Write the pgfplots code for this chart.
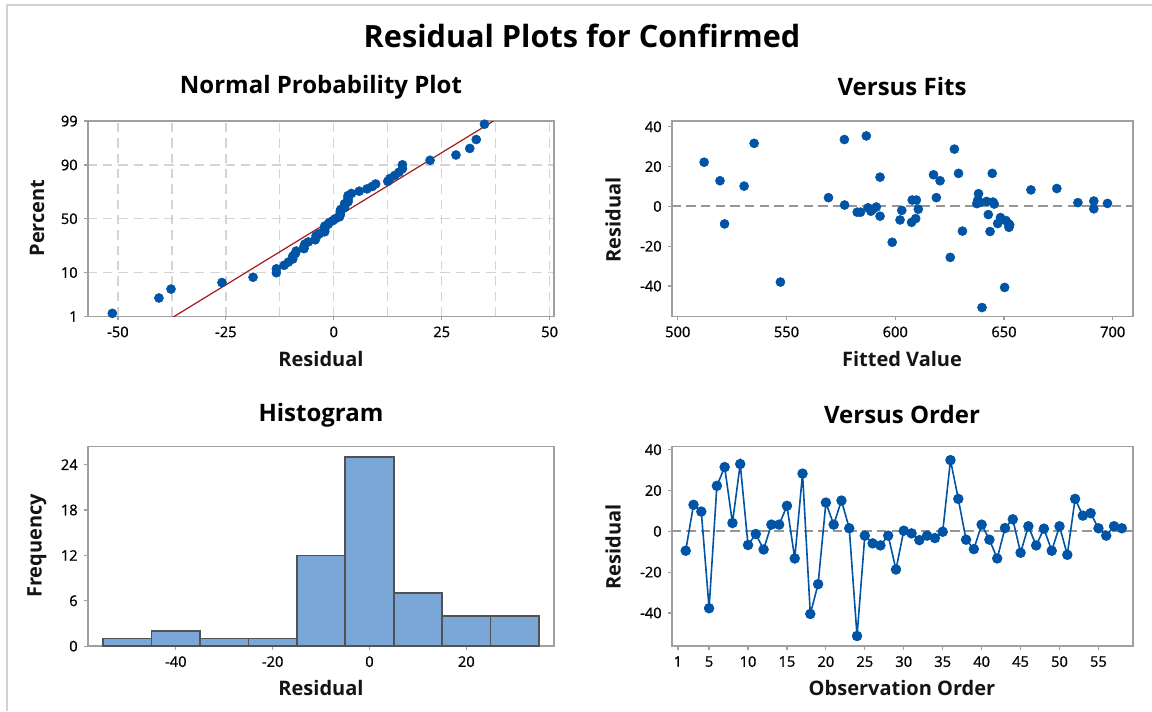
\documentclass[border=0pt]{standalone}
\usepackage{fontspec}
\setmainfont{Open Sans}
\newfontfamily\tickfont{Open Sans}[FakeBold=1]
\usepackage{pgfplots}
\usepackage{pgfplotstable}
\pgfplotsset{compat=1.18}
\definecolor{mblue}{RGB}{0,84,166}
\definecolor{mred}{RGB}{165,25,25}
\definecolor{mbar}{RGB}{123,166,216}
\definecolor{maxis}{RGB}{160,160,160}
\definecolor{mgrid}{RGB}{212,212,212}
\definecolor{mref}{RGB}{150,150,150}

% Normal probability plot: sorted residual, normal score
\pgfplotstableread{
x y
-51.3 -2.251
-40.5 -1.886
-37.7 -1.674
-25.9 -1.518
-18.7 -1.392
-13.3 -1.285
-13.3 -1.191
-11.5 -1.107
-10.5 -1.030
-9.5 -0.958
-9.5 -0.891
-8.9 -0.828
-8.7 -0.768
-6.9 -0.711
-6.9 -0.656
-6.7 -0.602
-5.9 -0.551
-4.3 -0.501
-4.1 -0.452
-4.1 -0.404
-3.3 -0.357
-2.1 -0.311
-2.1 -0.265
-2.1 -0.220
-2.1 -0.175
-1.3 -0.131
-1.0 -0.087
-0.2 -0.044
0.3 0.000
1.3 0.044
1.5 0.087
1.5 0.131
1.5 0.175
1.6 0.220
2.5 0.265
2.5 0.311
2.5 0.357
3.3 0.404
3.3 0.452
3.3 0.501
3.3 0.551
4.1 0.602
5.9 0.656
7.7 0.711
8.9 0.768
9.7 0.828
12.5 0.891
13.0 0.958
14.1 1.030
15.1 1.107
15.9 1.191
15.9 1.285
22.3 1.392
28.3 1.518
31.5 1.674
33.0 1.886
34.9 2.251
}\npp

% Versus fits
\pgfplotstableread{
x y
512.1 22.2
519.4 12.9
521.5 -8.8
530.5 10.2
535.1 31.7
547.2 -38.0
569.3 4.4
576.6 33.6
576.7 0.7
586.7 35.4
582.5 -2.9
584.0 -2.9
587.5 -0.7
588.8 -2.4
589.5 -1.6
591.3 -0.3
593.0 -4.9
593.0 14.7
598.6 -18.0
602.2 -6.8
603.0 -2.0
607.5 -8.0
607.8 3.2
609.7 3.2
609.4 -6.1
610.6 -1.4
617.6 15.9
618.9 4.4
620.6 12.9
625.3 -25.6
627.2 28.8
629.1 16.6
630.9 -12.4
637.5 1.4
638.0 3.2
638.3 6.4
639.0 2.0
639.9 -50.8
642.0 2.5
642.8 -4.1
643.6 -12.6
644.6 16.6
644.9 2.2
645.5 1.2
647.1 -8.6
648.4 -5.6
650.3 -40.7
650.9 -7.1
652.0 -8.6
652.3 -10.5
652.6 -9.3
662.4 8.3
674.3 9.0
684.0 1.9
691.3 2.7
691.3 -1.2
697.6 1.5
}\fits

% Versus order
\pgfplotstableread{
x y
2 -9.5
3 13.0
4 9.7
5 -37.7
6 22.3
7 31.5
8 4.1
9 33.0
10 -6.7
11 -1.3
12 -8.9
13 3.3
14 3.3
15 12.5
16 -13.3
17 28.3
18 -40.5
19 -25.9
20 14.1
21 3.3
22 15.1
23 1.5
24 -51.3
25 -2.1
26 -5.9
27 -6.9
28 -2.1
29 -18.7
30 0.3
31 -1.0
32 -4.3
33 -2.1
34 -3.3
35 -0.2
36 34.9
37 15.9
38 -4.1
39 -8.7
40 3.3
41 -4.1
42 -13.3
43 1.6
44 5.9
45 -10.5
46 2.5
47 -6.9
48 1.3
49 -9.5
50 2.5
51 -11.5
52 15.9
53 7.7
54 8.9
55 1.5
56 -2.1
57 2.5
58 1.5
}\order

\pgfplotsset{
  mstyle/.style={
    scale only axis,
    anchor=south west,
    axis line style={maxis, line width=1.4pt},
    tick style={maxis, line width=0.9pt},
    tick align=outside,
    major tick length=3pt,
    tick pos=left,
    tick label style={font=\tickfont\fontsize{11}{13}\selectfont, text=black},
    /pgf/number format/assume math mode=true,
    xticklabel style={yshift=-1pt},
    yticklabel style={xshift=-1pt},
  },
  refdash/.style={mref, line width=1.4pt, dash pattern=on 7pt off 4pt, forget plot},
}

\begin{document}
\begin{tikzpicture}[x=0.75pt,y=0.75pt]
\path[use as bounding box] (0,0) rectangle (1152,711);
\draw[black!18, line width=0.9pt] (7,0) -- (7,706) -- (1152,706);

% ---------- Normal probability plot ----------
\begin{axis}[mstyle, at={(65.775pt,295.875pt)}, width=349.7pt, height=146.6pt,
  xmin=-57, xmax=51, ymin=-2.3263, ymax=2.3263,
  xtick={-50,-25,0,25,50}, minor xtick={-37.5,-12.5,12.5,37.5},
  ytick={-2.3263,-1.2816,0,1.2816,2.3263}, yticklabels={1,10,50,90,99},
  xmajorgrids, xminorgrids, ymajorgrids,
  grid style={mgrid, dash pattern=on 7pt off 4.5pt, line width=1pt},
  minor tick length=0pt]
\addplot[mred, line width=0.9pt] coordinates {(-40,-2.516) (40,2.516)};
\addplot[only marks, mark=*, mark size=3.4pt, mark options={draw=mblue, fill=mblue}] table {\npp};
\end{axis}

% ---------- Versus fits ----------
\begin{axis}[mstyle, at={(503.775pt,295.875pt)}, width=345.75pt, height=146.6pt,
  xmin=497.2, xmax=709.2, ymin=-55.3, ymax=42.9,
  xtick={500,550,600,650,700}, ytick={-40,-20,0,20,40}]
\addplot[refdash] coordinates {(497.2,0) (709.2,0)};
\addplot[only marks, mark=*, mark size=3.4pt, mark options={draw=mblue, fill=mblue}] table {\fits};
\end{axis}

% ---------- Histogram ----------
\begin{axis}[mstyle, at={(65.775pt,48.6pt)}, width=349.7pt, height=149.8pt,
  xmin=-58.2, xmax=38.1, ymin=0, ymax=26.4,
  xtick={-40,-20,0,20}, ytick={0,6,12,18,24}]
\addplot[ybar interval, fill=mbar, draw=black!68, line width=1.2pt] coordinates
  {(-55,1) (-45,2) (-35,1) (-25,1) (-15,12) (-5,25) (5,7) (15,4) (25,4) (35,4)};
\end{axis}

% ---------- Versus order ----------
\begin{axis}[mstyle, at={(503.775pt,48.6pt)}, width=345.75pt, height=149.8pt,
  xmin=0.2, xmax=59.4, ymin=-56.3, ymax=41.6,
  xtick={1,5,10,15,20,25,30,35,40,45,50,55}, ytick={-40,-20,0,20,40}]
\addplot[refdash] coordinates {(0.2,0) (59.4,0)};
\addplot[mblue, line width=1.2pt, mark=*, mark size=3.3pt, mark options={draw=mblue, fill=mblue}] table {\order};
\end{axis}

% ---------- Titles and labels ----------
\node[font=\fontsize{23}{27}\selectfont\bfseries] at (582,675) {Residual Plots for Confirmed};
\node[font=\fontsize{18}{22}\selectfont\bfseries] at (321,624) {Normal Probability Plot};
\node[font=\fontsize{18}{22}\selectfont\bfseries] at (902,624) {Versus Fits};
\node[font=\fontsize{18}{22}\selectfont\bfseries] at (321,296) {Histogram};
\node[font=\fontsize{18}{22}\selectfont\bfseries] at (902,296) {Versus Order};

\tikzset{lab/.style={font=\fontsize{15}{18}\selectfont\bfseries, text=black!92}}
\node[lab] at (321,352) {Residual};
\node[lab] at (902,352) {Fitted Value};
\node[lab] at (321,23) {Residual};
\node[lab] at (902,23) {Observation Order};
\node[lab, rotate=90] at (37,493) {Percent};
\node[lab, rotate=90] at (613,491) {Residual};
\node[lab, rotate=90] at (37,165) {Frequency};
\node[lab, rotate=90] at (613,164) {Residual};
\end{tikzpicture}
\end{document}
